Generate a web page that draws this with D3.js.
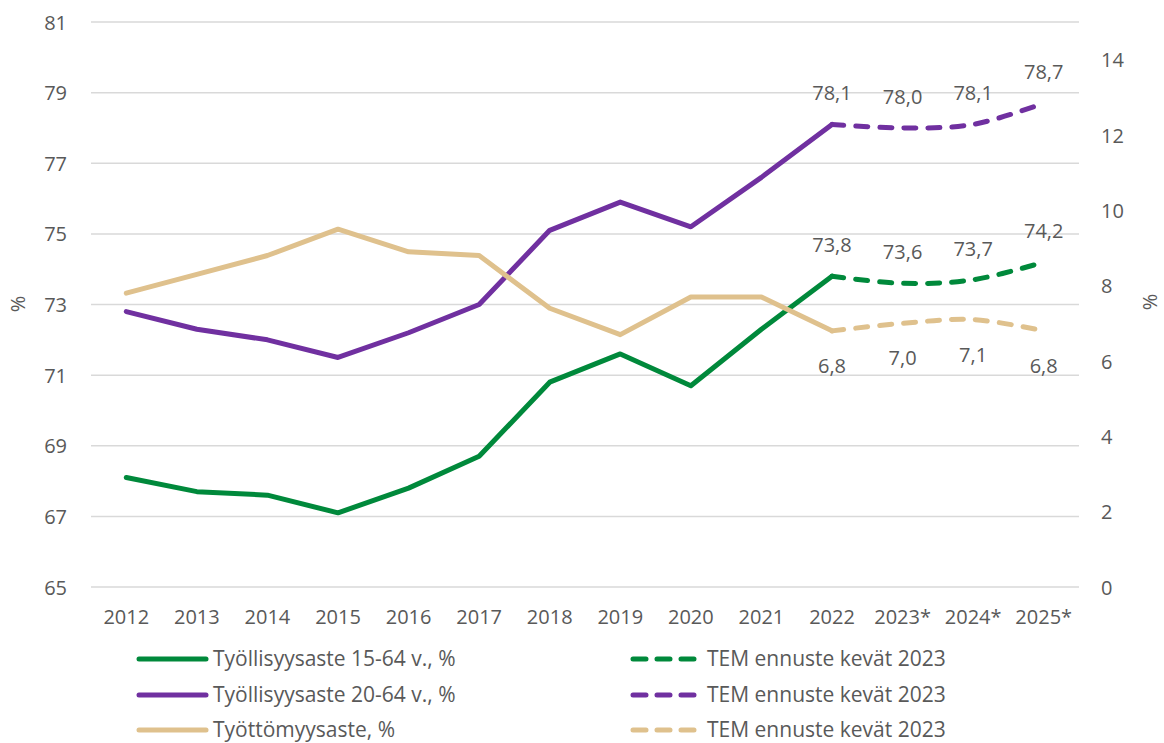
<!DOCTYPE html>
<html>
<head>
<meta charset="utf-8">
<script src="https://cdn.jsdelivr.net/npm/d3@7"></script>
<style>
  body { margin: 0; background: #fff; }
  text { font-family: "Open Sans", sans-serif; fill: #595959; }
</style>
</head>
<body>
<svg id="chart"></svg>
<script>
// years on the x axis
var years = ["2012", "2013", "2014", "2015", "2016", "2017", "2018", "2019", "2020", "2021", "2022", "2023*", "2024*", "2025*"];
var histYears = years.slice(0, 11);
var fcYears = years.slice(10);

// employment rate 15-64 (left axis)
var emp1564 = [68.1, 67.7, 67.6, 67.1, 67.8, 68.7, 70.8, 71.6, 70.7, 72.3, 73.8];
var emp1564Fc = [73.8, 73.6, 73.7, 74.2];
// employment rate 20-64 (left axis)
var emp2064 = [72.8, 72.3, 72.0, 71.5, 72.2, 73.0, 75.1, 75.9, 75.2, 76.6, 78.1];
var emp2064Fc = [78.1, 78.0, 78.1, 78.7];
// unemployment rate (right axis)
var unemp = [7.8, 8.3, 8.8, 9.5, 8.9, 8.8, 7.4, 6.7, 7.7, 7.7, 6.8];
var unempFc = [6.8, 7.0, 7.1, 6.8];

var leftTicks = [65, 67, 69, 71, 73, 75, 77, 79, 81];
var rightTicks = [0, 2, 4, 6, 8, 10, 12, 14];

var legendNames = ["Työllisyysaste 15-64 v., %", "Työllisyysaste 20-64 v., %", "Työttömyysaste, %"];
var forecastName = "TEM ennuste kevät 2023";

var green = "#00893b", purple = "#7030a0", tan = "#dfc18d";

var w = 1164, h = 743;
var plotL = 91, plotR = 1079, plotT = 22, plotB = 587;

var svg = d3.select("#chart").attr("width", w).attr("height", h);

var x = d3.scaleBand().domain(years).range([plotL, plotR]);
var cx = function(d) { return x(d) + x.bandwidth() / 2; };
var yL = d3.scaleLinear().domain([65, 81]).range([plotB, plotT]);
var yR = d3.scaleLinear().domain([0, 15]).range([plotB, plotT]);

// gridlines
svg.append("g").selectAll("line")
    .data(leftTicks)
    .enter()
    .append("line")
    .attr("x1", plotL).attr("x2", plotR)
    .attr("y1", function(d) { return yL(d); })
    .attr("y2", function(d) { return yL(d); })
    .attr("stroke", "#d9d9d9")
    .attr("stroke-width", 1.5);

// left axis
var axL = svg.append("g")
    .attr("transform", "translate(" + (plotL - 24) + ",0)")
    .call(d3.axisLeft(yL).tickValues(leftTicks).tickSize(0).tickPadding(0));
axL.select(".domain").remove();
axL.selectAll("text").style("font-size", "20px").attr("fill", "#595959").attr("dy", "0.35em");

// right axis
var axR = svg.append("g")
    .attr("transform", "translate(" + (plotR + 22) + ",0)")
    .call(d3.axisRight(yR).tickValues(rightTicks).tickSize(0).tickPadding(0));
axR.select(".domain").remove();
axR.selectAll("text").style("font-size", "20px").attr("fill", "#595959").attr("dy", "0.35em");

// x axis
var axX = svg.append("g")
    .attr("transform", "translate(0," + (plotB + 30) + ")")
    .call(d3.axisBottom(x).tickSize(0).tickPadding(0));
axX.select(".domain").remove();
axX.selectAll("text").style("font-size", "20px").attr("fill", "#595959").attr("dy", "0.35em");

// axis titles
svg.append("text")
    .attr("transform", "translate(25,304) rotate(-90)")
    .attr("text-anchor", "middle")
    .style("font-size", "20px")
    .text("%");
svg.append("text")
    .attr("transform", "translate(1157,302) rotate(-90)")
    .attr("text-anchor", "middle")
    .style("font-size", "20px")
    .text("%");

var series = [
    { hist: emp1564, fc: emp1564Fc, y: yL, color: green, labelPos: "above" },
    { hist: emp2064, fc: emp2064Fc, y: yL, color: purple, labelPos: "above" },
    { hist: unemp, fc: unempFc, y: yR, color: tan, labelPos: "below" }
];

var fmt = function(v) { return d3.format(".1f")(v).replace(".", ","); };

series.forEach(function(s) {
    var solid = d3.line()
        .x(function(d, i) { return cx(histYears[i]); })
        .y(function(d) { return s.y(d); });
    var dashed = d3.line()
        .x(function(d, i) { return cx(fcYears[i]); })
        .y(function(d) { return s.y(d); })
        .curve(d3.curveCatmullRom.alpha(0.5));

    svg.append("path")
        .datum(s.hist)
        .attr("d", solid)
        .attr("fill", "none")
        .attr("stroke", s.color)
        .attr("stroke-width", 5)
        .attr("stroke-linejoin", "round")
        .attr("stroke-linecap", "round");

    svg.append("path")
        .datum(s.fc)
        .attr("d", dashed)
        .attr("fill", "none")
        .attr("stroke", s.color)
        .attr("stroke-width", 5)
        .attr("stroke-dasharray", "12,12")
        .attr("stroke-linecap", "round");

    svg.append("g").selectAll("text")
        .data(s.fc)
        .enter()
        .append("text")
        .attr("x", function(d, i) { return cx(fcYears[i]); })
        .attr("y", function(d) { return s.labelPos == "above" ? s.y(d) - 31 : s.y(d) + 35; })
        .attr("dy", "0.35em")
        .attr("text-anchor", "middle")
        .style("font-size", "20px")
        .attr("fill", "#404040")
        .text(function(d) { return fmt(d); });
});

// legend
var legRows = [659, 695, 730];
series.forEach(function(s, i) {
    var g = svg.append("g").attr("transform", "translate(0," + legRows[i] + ")");
    g.append("line")
        .attr("x1", 139).attr("x2", 206)
        .attr("stroke", s.color).attr("stroke-width", 5)
        .attr("stroke-linecap", "round");
    g.append("text")
        .attr("x", 213)
        .attr("dy", "0.35em")
        .style("font-size", "21px")
        .text(legendNames[i]);
    g.append("line")
        .attr("x1", 633).attr("x2", 694)
        .attr("stroke", s.color).attr("stroke-width", 5)
        .attr("stroke-dasharray", "13,11")
        .attr("stroke-linecap", "round");
    g.append("text")
        .attr("x", 707)
        .attr("dy", "0.35em")
        .style("font-size", "21px")
        .text(forecastName);
});
</script>
</body>
</html>
